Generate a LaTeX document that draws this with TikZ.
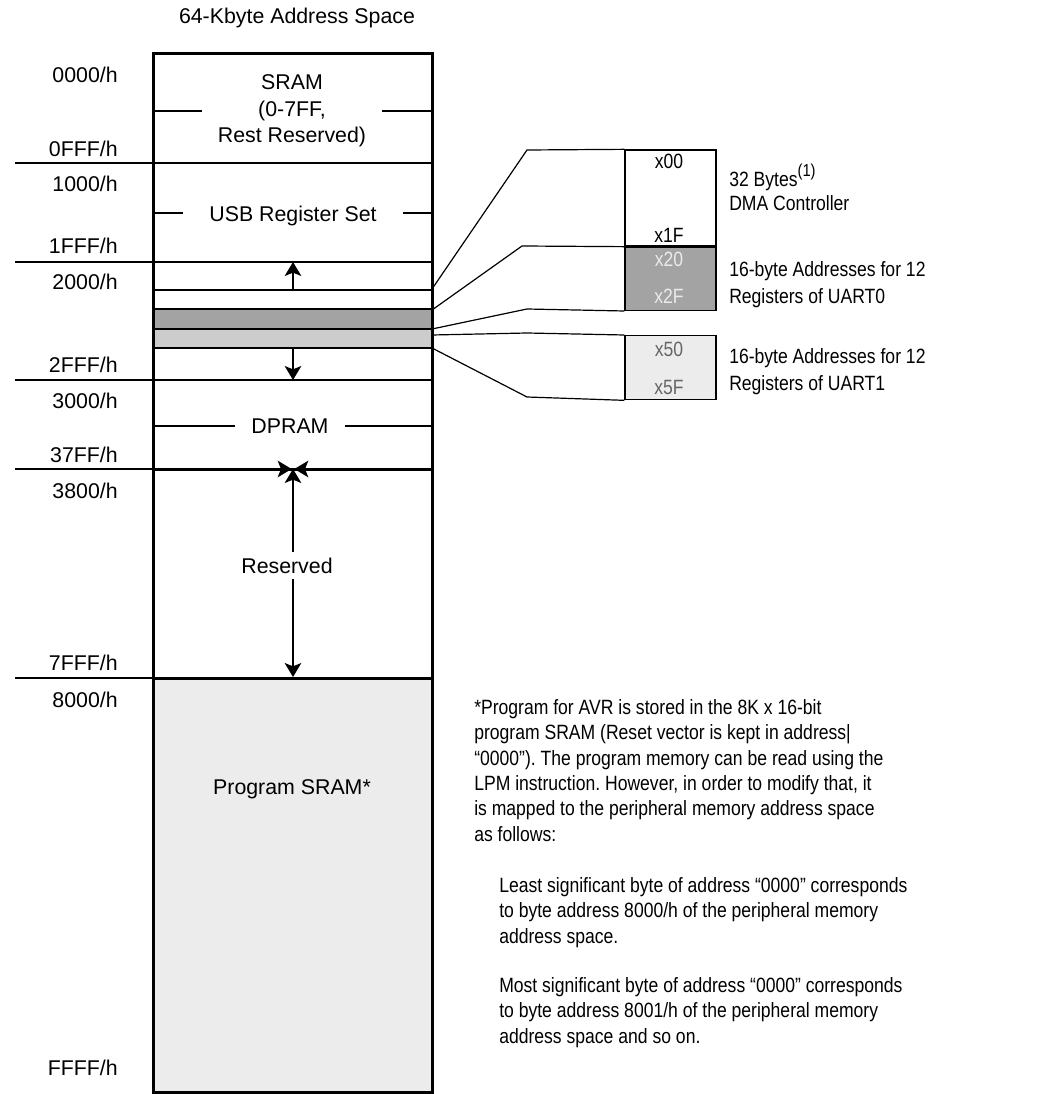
\documentclass[tikz,border=0pt]{standalone}
\usepackage{fontspec}
\setmainfont{Liberation Sans}
\newfontfamily\smalfont[FakeStretch=0.85]{Liberation Sans}
\usetikzlibrary{arrows.meta,positioning}
\frenchspacing
\definecolor{lysgraa}{HTML}{ECECEC}
\definecolor{mellemgraa}{HTML}{CCCCCC}
\definecolor{moerkgraa}{HTML}{A3A3A3}
\tikzset{ >={Stealth[length=10.5pt,width=12.5pt,inset=2.5pt]},
  adr/.style={anchor=base east, inner sep=0pt, font=\fontsize{16}{20}\selectfont},
  felt/.style={fill=white, inner ysep=2pt, inner xsep=12pt, align=center, font=\fontsize{16}{20}\selectfont},
  kasse/.style={rectangle, draw=black, line width=1pt, minimum width=68.25pt, inner sep=0pt},
  hex/.style={anchor=base, inner sep=0pt, font=\smalfont\fontsize{15.5}{19}\selectfont},
  noter/.style={anchor=north west, inner sep=0pt, align=left, font=\smalfont\fontsize{15.5}{19.05}\selectfont},
  pil/.style={->, line width=1pt},
  tynd/.style={line width=1.1pt},
  tyk/.style={line width=2.25pt},
  forb/.style={line width=0.9pt}}

\begin{document}
\begin{tikzpicture}[x=0.75pt,y=-0.75pt]
    \useasboundingbox (0,0) rectangle (1059,1094);
    % shaded regions
    \fill[lysgraa] (153,678) rectangle (432,1092);
    \fill[moerkgraa] (153,309) rectangle (432,329);
    \fill[mellemgraa] (153,329) rectangle (432,348);
    % region borders
    \draw[tynd] (15,163) -- (432,163);
    \draw[tynd] (15,262) -- (432,262);
    \draw[tynd] (15,380) -- (432,380);
    \draw[tynd] (15,469) -- (153,469);
    \draw[tynd] (15,678) -- (153,678);
    \draw[tyk] (153,469) -- (432,469);
    \draw[tyk] (153,678) -- (432,678);
    \draw[tynd] (153,290) -- (432,290);
    \draw[tynd] (153,309) -- (432,309);
    \draw[tynd] (153,329) -- (432,329);
    \draw[tynd] (153,348) -- (432,348);
    % lines behind the region names
    \draw[tynd] (153,111) -- (432,111);
    \draw[tynd] (153,213) -- (432,213);
    \draw[tynd] (153,426) -- (432,426);
    \draw[tyk] (153,54) rectangle (432,1092);

    %arrows
    \coordinate (op) at (293,290);
    \coordinate (optop) at (293,262);
    \coordinate (ned) at (293,348);
    \coordinate (nedbund) at (293,380);
    \coordinate (r1) at (293,469);
    \coordinate (r2) at (293,677);
    \coordinate (sv) at (272,469);
    \coordinate (sh) at (314,469);
    \draw[pil] (op) -- (optop);
    \draw[pil] (ned) -- (nedbund);
    \draw[pil,<->] (r1) -- (r2);
    \draw[pil,shorten >=1pt] (sv) -- (r1);
    \draw[pil,shorten >=1pt] (sh) -- (r1);

    %region names
    \node[anchor=base, font=\fontsize{16}{20}\selectfont] (titel) at (297,24) {64-Kbyte Address Space};
    \node[felt] (sram) at (292,111) {SRAM\\(0-7FF,\\Rest Reserved)};
    \node[felt, inner xsep=20pt, anchor=base] (usb) at (293,222) {USB Register Set};
    \node[felt, anchor=base] (dpram) at (290,433) {DPRAM};
    \node[felt, inner sep=4pt, anchor=base] (res) at (287,573) {Reserved};
    \node[anchor=base, font=\fontsize{16}{20}\selectfont] (prog) at (292,794) {Program SRAM*};

    %addresses
    \node[adr] (a0000) at (118,83) {0000/h};
    \node[adr] (a0fff) at (118,157) {0FFF/h};
    \node[adr] (a1000) at (118,192) {1000/h};
    \node[adr] (a1fff) at (118,254) {1FFF/h};
    \node[adr] (a2000) at (118,290) {2000/h};
    \node[adr] (a2fff) at (118,373) {2FFF/h};
    \node[adr] (a3000) at (118,408) {3000/h};
    \node[adr] (a37ff) at (118,462) {37FF/h};
    \node[adr] (a3800) at (118,498) {3800/h};
    \node[adr] (a7fff) at (118,670) {7FFF/h};
    \node[adr] (a8000) at (118,707) {8000/h};
    \node[adr] (affff) at (118,1075) {FFFF/h};

    %detail boxes
    \node[kasse, minimum height=72pt] (dma) at (670.5,198) {};
    \node[kasse, fill=moerkgraa, minimum height=47.25pt, below=0pt of dma] (uart0) {};
    \node[kasse, fill=lysgraa, minimum height=48pt, below=18pt of uart0] (uart1) {};
    \node[hex] (x00) at (669,169) {x00};
    \node[hex] (x1f) at (669,243) {x1F};
    \node[hex, text=black!8] (x20) at (669,267) {x20};
    \node[hex, text=black!8] (x2f) at (669,304) {x2F};
    \node[hex, text=black!60] (x50) at (669,357) {x50};
    \node[hex, text=black!60] (x5f) at (669,394) {x5F};

    %connectors
    \coordinate (m1) at (432,289);
    \coordinate (m2) at (432,310);
    \coordinate (m3) at (432,329);
    \coordinate (m4) at (432,335);
    \coordinate (m5) at (432,348);
    \coordinate (k1) at (527,150);
    \coordinate (k2) at (522,246);
    \coordinate (k3) at (527,309);
    \coordinate (k4) at (527,333);
    \coordinate (k5) at (527,397);
    \draw[forb] (m1) -- (k1) -- (dma.north west);
    \draw[forb] (m2) -- (k2) -- (uart0.north west);
    \draw[forb] (m3) -- (k3) -- (uart0.south west);
    \draw[forb] (m4) -- (k4) -- (uart1.north west);
    \draw[forb] (m5) -- (k5) -- (uart1.south west);

    %descriptions
    \node[noter, anchor=base west] (dmatxt) at (729,187) {32 Bytes\raisebox{7.5pt}{\fontsize{13}{13}\selectfont(1)}};
    \node[noter, anchor=base west] (dmatxt2) at (729,211) {DMA Controller};
    \node[noter, font=\smalfont\fontsize{15.5}{20.7}\selectfont] (u0txt) at (729,261) {16-byte Addresses for 12\\Registers of UART0};
    \node[noter, font=\smalfont\fontsize{15.5}{20.7}\selectfont] (u1txt) at (729,348) {16-byte Addresses for 12\\Registers of UART1};
    \node[noter] (note) at (474,699) {*Program for AVR is stored in the 8K x 16-bit\\
      program SRAM (Reset vector is kept in address|\\
      “0000”). The program memory can be read using the\\
      LPM instruction. However, in order to modify that, it\\
      is mapped to the peripheral memory address space\\
      as follows:};
    \node[noter] (lsb) at (499,877) {Least significant byte of address “0000” corresponds\\
      to byte address 8000/h of the peripheral memory\\
      address space.};
    \node[noter] (msb) at (499,977) {Most significant byte of address “0000” corresponds\\
      to byte address 8001/h of the peripheral memory\\
      address space and so on.};
\end{tikzpicture}
\end{document}
